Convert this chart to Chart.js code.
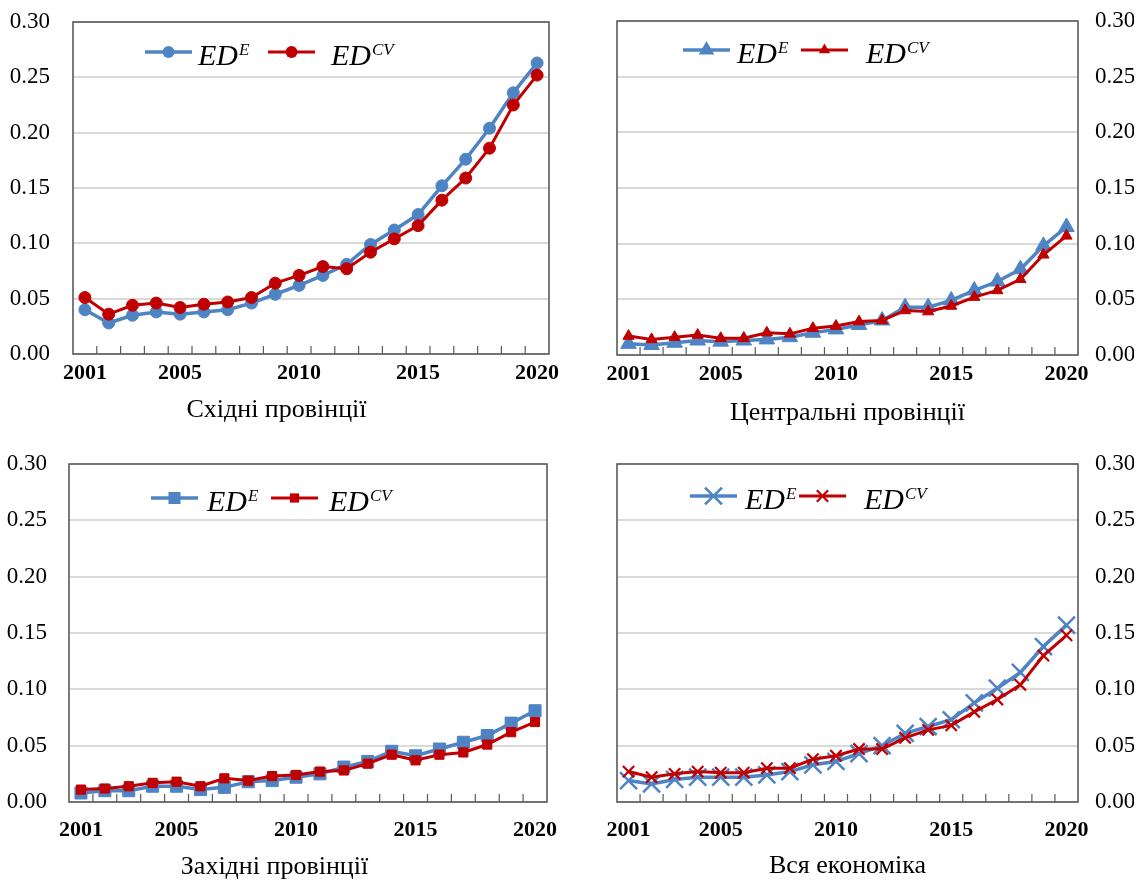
<!DOCTYPE html>
<html lang="uk">
<head>
<meta charset="utf-8">
<title>ED</title>
<script src="https://cdn.jsdelivr.net/npm/chart.js@4.4.0/dist/chart.umd.min.js"></script>
<style>
  html, body { margin: 0; padding: 0; background: #fff; overflow: hidden; }
  body { width: 1139px; height: 881px; position: relative; }
  .panel { position: absolute; }
</style>
</head>
<body>
<div class="panel" style="left:0;top:0;width:570px;height:440px"><canvas id="east"></canvas></div>
<div class="panel" style="left:560px;top:0;width:574px;height:440px"><canvas id="central"></canvas></div>
<div class="panel" style="left:0;top:440px;width:570px;height:441px"><canvas id="west"></canvas></div>
<div class="panel" style="left:560px;top:440px;width:574px;height:441px"><canvas id="all"></canvas></div>
<script>
// Data
const years = ['2001', '2002', '2003', '2004', '2005', '2006', '2007', '2008', '2009', '2010',
               '2011', '2012', '2013', '2014', '2015', '2016', '2017', '2018', '2019', '2020'];
const shownYears = ['2001', '2005', '2010', '2015', '2020'];

const eastE  = [0.040, 0.028, 0.035, 0.038, 0.036, 0.038, 0.040, 0.046, 0.054, 0.062,
                0.071, 0.081, 0.099, 0.112, 0.126, 0.152, 0.176, 0.204, 0.236, 0.263];
const eastCV = [0.051, 0.036, 0.044, 0.046, 0.042, 0.045, 0.047, 0.051, 0.064, 0.071,
                0.079, 0.077, 0.092, 0.104, 0.116, 0.139, 0.159, 0.186, 0.225, 0.252];

const centralE  = [0.010, 0.009, 0.011, 0.013, 0.012, 0.013, 0.014, 0.016, 0.020, 0.023,
                   0.027, 0.031, 0.043, 0.043, 0.049, 0.058, 0.066, 0.077, 0.098, 0.115];
const centralCV = [0.017, 0.014, 0.016, 0.018, 0.015, 0.015, 0.020, 0.019, 0.024, 0.026,
                   0.030, 0.031, 0.040, 0.039, 0.044, 0.052, 0.058, 0.068, 0.090, 0.107];

const westE  = [0.008, 0.010, 0.010, 0.014, 0.014, 0.011, 0.013, 0.018, 0.019, 0.022,
                0.025, 0.031, 0.036, 0.045, 0.041, 0.047, 0.053, 0.059, 0.070, 0.081];
const westCV = [0.011, 0.012, 0.014, 0.017, 0.018, 0.014, 0.021, 0.019, 0.023, 0.024,
                0.027, 0.028, 0.034, 0.042, 0.037, 0.042, 0.044, 0.051, 0.062, 0.071];

const allE  = [0.019, 0.016, 0.020, 0.022, 0.022, 0.022, 0.024, 0.027, 0.033, 0.036,
               0.043, 0.050, 0.061, 0.067, 0.073, 0.088, 0.101, 0.115, 0.138, 0.157];
const allCV = [0.027, 0.022, 0.025, 0.027, 0.026, 0.026, 0.030, 0.030, 0.038, 0.041,
               0.047, 0.047, 0.057, 0.064, 0.068, 0.080, 0.091, 0.104, 0.130, 0.148];

// legend text: base + superscript
const seriesNames = [['ED', 'E'], ['ED', 'CV']];

const BLUE = '#4f84c4';
const RED = '#c00000';
const SERIF = '"Liberation Serif", "Times New Roman", serif';

// draws one marker (used by the legend)
function drawMarker(ctx, style, r, x, y, color, bw) {
  ctx.save();
  ctx.fillStyle = color;
  ctx.strokeStyle = color;
  ctx.lineWidth = bw;
  ctx.beginPath();
  if (style === 'circle') {
    ctx.arc(x, y, r, 0, Math.PI * 2);
    ctx.fill();
  } else if (style === 'triangle') {
    ctx.moveTo(x, y - r);
    ctx.lineTo(x + r * 0.866, y + r * 0.5);
    ctx.lineTo(x - r * 0.866, y + r * 0.5);
    ctx.closePath();
    ctx.fill();
  } else if (style === 'rect') {
    const s = r * Math.SQRT1_2;
    ctx.fillRect(x - s, y - s, 2 * s, 2 * s);
  } else if (style === 'crossRot') {
    const s = r * Math.SQRT1_2;
    ctx.moveTo(x - s, y - s); ctx.lineTo(x + s, y + s);
    ctx.moveTo(x + s, y - s); ctx.lineTo(x - s, y + s);
    ctx.stroke();
  }
  ctx.restore();
}

// frame around the plot + small inner ticks between years
const framePlugin = {
  id: 'frame',
  beforeDatasetsDraw(chart) {
    const { ctx, chartArea: a } = chart;
    const x = chart.scales.x;
    ctx.save();
    ctx.strokeStyle = '#5a5a5a';
    ctx.lineWidth = 1.6;
    ctx.strokeRect(a.left, a.top, a.right - a.left, a.bottom - a.top);
    ctx.lineWidth = 1.2;
    ctx.beginPath();
    for (let i = 1; i < x.ticks.length; i++) {
      const px = (x.getPixelForTick(i - 1) + x.getPixelForTick(i)) / 2;
      ctx.moveTo(px, a.bottom);
      ctx.lineTo(px, a.bottom - 8);
    }
    ctx.stroke();
    ctx.restore();
  }
};

// legend with superscripts, inside the plot
const edLegend = {
  id: 'edLegend',
  afterDraw(chart, args, opts) {
    const { ctx, chartArea: a } = chart;
    const y = a.top + opts.y;
    chart.data.datasets.forEach(function (ds, i) {
      const x0 = a.left + opts.x[i];
      const len = 47;
      ctx.save();
      ctx.strokeStyle = ds.borderColor;
      ctx.lineWidth = ds.borderWidth;
      ctx.beginPath();
      ctx.moveTo(x0, y);
      ctx.lineTo(x0 + len, y);
      ctx.stroke();
      drawMarker(ctx, ds.pointStyle, ds.pointRadius, x0 + len / 2, y, ds.borderColor, ds.pointBorderWidth);
      const tx = x0 + len + opts.gap[i];
      ctx.fillStyle = '#000';
      ctx.textBaseline = 'alphabetic';
      ctx.font = 'italic 30px ' + SERIF;
      ctx.fillText(seriesNames[i][0], tx, y + 13);
      const w = ctx.measureText(seriesNames[i][0]).width;
      ctx.font = 'italic 17px ' + SERIF;
      ctx.fillText(seriesNames[i][1], tx + w + 1, y + 3);
      ctx.restore();
    });
  }
};

function makeChart(id, e, cv, p) {
  const right = p.side === 'right';
  const config = {
    type: 'line',
    data: {
      labels: years,
      datasets: [{
        label: 'ED^E',
        data: e,
        borderColor: BLUE,
        backgroundColor: BLUE,
        borderWidth: 3.5,
        pointStyle: p.marker,
        pointRadius: p.rE,
        pointBorderWidth: p.marker === 'crossRot' ? 2.5 : 1,
        pointBackgroundColor: BLUE,
        pointBorderColor: BLUE,
        order: 1
      }, {
        label: 'ED^CV',
        data: cv,
        borderColor: RED,
        backgroundColor: RED,
        borderWidth: 3,
        pointStyle: p.marker,
        pointRadius: p.rCV,
        pointBorderWidth: p.marker === 'crossRot' ? 2.2 : 1,
        pointBackgroundColor: RED,
        pointBorderColor: RED,
        order: 0
      }]
    },
    options: {
      responsive: true,
      maintainAspectRatio: false,
      animation: false,
      events: [],
      layout: { padding: p.pad },
      plugins: {
        legend: { display: false },
        tooltip: { enabled: false },
        title: {
          display: !right,
          position: 'bottom',
          text: p.title,
          color: '#000',
          font: { family: SERIF, size: 26, weight: 'normal', lineHeight: 1 },
          padding: 0
        },
        edLegend: p.legend
      },
      scales: {
        x: {
          type: 'category',
          offset: true,
          grid: { display: false, drawTicks: false },
          border: { display: false },
          ticks: {
            autoSkip: false,
            maxRotation: 0,
            padding: p.xPad,
            color: '#000',
            font: { family: SERIF, size: 22, weight: 'bold' },
            callback: function (v) {
              const l = this.getLabelForValue(v);
              return shownYears.includes(l) ? l : '';
            }
          },
          title: {
            display: right,
            text: p.title,
            color: '#000',
            font: { family: SERIF, size: 26, lineHeight: 1 },
            padding: 0
          },
          afterFit: function (s) {
            s.height = p.xH;
            s.paddingLeft = 0;
            s.paddingRight = 0;
          }
        },
        y: {
          position: p.side,
          min: 0,
          max: 0.3,
          grid: { color: '#d9d9d9', lineWidth: 2, drawTicks: false },
          border: { display: false },
          ticks: {
            stepSize: 0.05,
            padding: p.yPad,
            color: '#000',
            font: { family: SERIF, size: 23 },
            callback: function (v) { return v.toFixed(2); }
          },
          afterFit: function (s) {
            s.width = p.yW;
            s.paddingTop = 0;
            s.paddingBottom = 0;
          }
        }
      }
    },
    plugins: [framePlugin, edLegend]
  };
  new Chart(document.getElementById(id).getContext('2d'), config);
}

document.addEventListener('DOMContentLoaded', function () {
  makeChart('east', eastE, eastCV, {
    title: 'Східні провінції', side: 'left', marker: 'circle', rE: 6, rCV: 6,
    pad: { left: 4, right: 21, top: 22, bottom: 17 }, yW: 69, yPad: 23, xH: 43, xPad: 6,
    legend: { x: [72, 195], gap: [6, 16], y: 30 }
  });
  makeChart('central', centralE, centralCV, {
    title: 'Центральні провінції', side: 'right', marker: 'triangle', rE: 9, rCV: 6.5,
    pad: { left: 57, right: 0, top: 21, bottom: 14 }, yW: 56, yPad: 17, xH: 71, xPad: 6,
    legend: { x: [66, 184], gap: [7, 18], y: 29 }
  });
  makeChart('west', westE, westCV, {
    title: 'Західні провінції', side: 'left', marker: 'rect', rE: 8.5, rCV: 6.5,
    pad: { left: 2, right: 23, top: 24, bottom: 1 }, yW: 67, yPad: 22, xH: 52, xPad: 15,
    legend: { x: [82, 202], gap: [9, 11], y: 34 }
  });
  makeChart('all', allE, allCV, {
    title: 'Вся економіка', side: 'right', marker: 'crossRot', rE: 12, rCV: 8,
    pad: { left: 57, right: 0, top: 24, bottom: 2 }, yW: 56, yPad: 17, xH: 77, xPad: 15,
    legend: { x: [73, 182], gap: [8, 18], y: 32 }
  });
});
</script>
</body>
</html>
